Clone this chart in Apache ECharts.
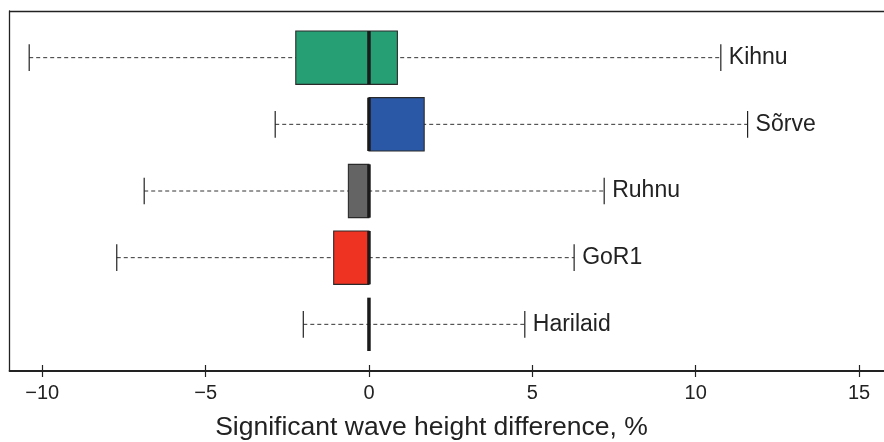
<!DOCTYPE html>
<html>
<head>
<meta charset="utf-8">
<script src="https://cdn.jsdelivr.net/npm/echarts@6/dist/echarts.min.js"></script>
<style>
html,body{margin:0;padding:0;background:#fff;}
#chart{width:884px;height:442px;}
</style>
</head>
<body>
<div id="chart"></div>
<script>
const categories = ['Kihnu', 'Sõrve', 'Ruhnu', 'GoR1', 'Harilaid'];
const lowerWhisker = [-10.40, -2.87, -6.88, -7.72, -2.01];
const q1Values = [-2.24, 0.00, -0.63, -1.08, 0.00];
const medianValues = [0.00, 0.00, 0.00, 0.00, 0.00];
const q3Values = [0.87, 1.69, 0.00, 0.00, 0.00];
const upperWhisker = [10.77, 11.59, 7.20, 6.28, 4.77];
const boxColors = ['#279f75', '#2b58a6', '#646464', '#ee3323', '#646464'];
const xTickValues = [-10, -5, 0, 5, 10, 15];
const xAxisTitle = 'Significant wave height difference, %';

const FONT = '"Liberation Sans", Arial, Helvetica, sans-serif';
const X_MIN = -11, X_MAX = 15.765;

const data = categories.map((c, i) => [i + 1, lowerWhisker[i], q1Values[i], medianValues[i], q3Values[i], upperWhisker[i]]);

function renderItem(params, api) {
  const y = api.value(0);
  const low = api.value(1), q1 = api.value(2), med = api.value(3), q3 = api.value(4), high = api.value(5);
  const idx = params.dataIndex;
  const pLow = api.coord([low, y]);
  const pQ1 = api.coord([q1, y]);
  const pMed = api.coord([med, y]);
  const pQ3 = api.coord([q3, y]);
  const pHigh = api.coord([high, y]);
  const unit = api.size([0, 1])[1];
  const cy = pLow[1];
  const boxHalf = 0.4 * unit;
  const capHalf = 0.2 * unit;
  const children = [];
  children.push({
    type: 'line',
    shape: { x1: pLow[0], y1: cy, x2: pHigh[0], y2: cy },
    style: { stroke: '#333', lineWidth: 1, lineDash: [4, 3] }
  });
  children.push({
    type: 'line',
    shape: { x1: pLow[0], y1: cy - capHalf, x2: pLow[0], y2: cy + capHalf },
    style: { stroke: '#222', lineWidth: 1.2 }
  });
  children.push({
    type: 'line',
    shape: { x1: pHigh[0], y1: cy - capHalf, x2: pHigh[0], y2: cy + capHalf },
    style: { stroke: '#222', lineWidth: 1.2 }
  });
  if (pQ3[0] - pQ1[0] > 0.5) {
    children.push({
      type: 'rect',
      shape: { x: pQ1[0], y: cy - boxHalf, width: pQ3[0] - pQ1[0], height: 2 * boxHalf },
      style: { fill: boxColors[idx], stroke: '#2a2a2a', lineWidth: 1.1 }
    });
  }
  children.push({
    type: 'line',
    shape: { x1: pMed[0], y1: cy - boxHalf, x2: pMed[0], y2: cy + boxHalf },
    style: { stroke: '#1a1a1a', lineWidth: 3.5 }
  });
  children.push({
    type: 'text',
    style: {
      text: categories[idx],
      x: pHigh[0] + 8, y: cy,
      font: '23px ' + FONT,
      fill: '#222',
      align: 'left', verticalAlign: 'middle',
      textAlign: 'left', textVerticalAlign: 'middle'
    }
  });
  return { type: 'group', children: children };
}

const chart = echarts.init(document.getElementById('chart'), null, { renderer: 'canvas' });
chart.setOption({
  animation: false,
  backgroundColor: '#fff',
  grid: {
    left: 9.6, top: 11, bottom: 71, right: 0,
    show: false,
    containLabel: false
  },
  xAxis: [{
    type: 'value', min: X_MIN, max: X_MAX, position: 'bottom',
    axisLine: { show: true, onZero: false, lineStyle: { color: '#222', width: 2 } },
    axisTick: { show: true, inside: false, length: 6, customValues: xTickValues, lineStyle: { color: '#222', width: 1.2 } },
    axisLabel: { show: true, customValues: xTickValues, margin: 12, fontSize: 20, fontFamily: FONT, color: '#222',
      formatter: v => (v < 0 ? '\u2212' + Math.abs(v) : String(v)) },
    splitLine: { show: false }
  }, {
    type: 'value', min: X_MIN, max: X_MAX, position: 'bottom', gridIndex: 0,
    axisLine: { show: false, onZero: false },
    axisTick: { show: true, inside: true, length: 6, customValues: xTickValues, lineStyle: { color: '#222', width: 1.2 } },
    axisLabel: { show: false },
    splitLine: { show: false }
  }, {
    type: 'value', min: X_MIN, max: X_MAX, position: 'top', gridIndex: 0,
    axisLine: { show: true, onZero: false, lineStyle: { color: '#222', width: 1.3 } },
    axisTick: { show: false },
    axisLabel: { show: false },
    splitLine: { show: false }
  }],
  yAxis: {
    type: 'value', min: 0.3, max: 5.7, inverse: true, position: 'left',
    axisLine: { show: true, onZero: false, lineStyle: { color: '#222', width: 1.3 } },
    axisTick: { show: false },
    axisLabel: { show: false },
    splitLine: { show: false }
  },
  series: [{
    type: 'custom',
    renderItem: renderItem,
    data: data,
    encode: { x: [1, 2, 3, 4, 5], y: 0 },
    clip: false,
    z: 5
  }],
  graphic: [{
    type: 'text',
    x: 431.5, y: 428,
    style: {
      text: xAxisTitle,
      font: '26.5px ' + FONT,
      fill: '#222',
      align: 'center', verticalAlign: 'middle',
      textAlign: 'center', textVerticalAlign: 'middle'
    }
  }]
});
</script>
</body>
</html>
